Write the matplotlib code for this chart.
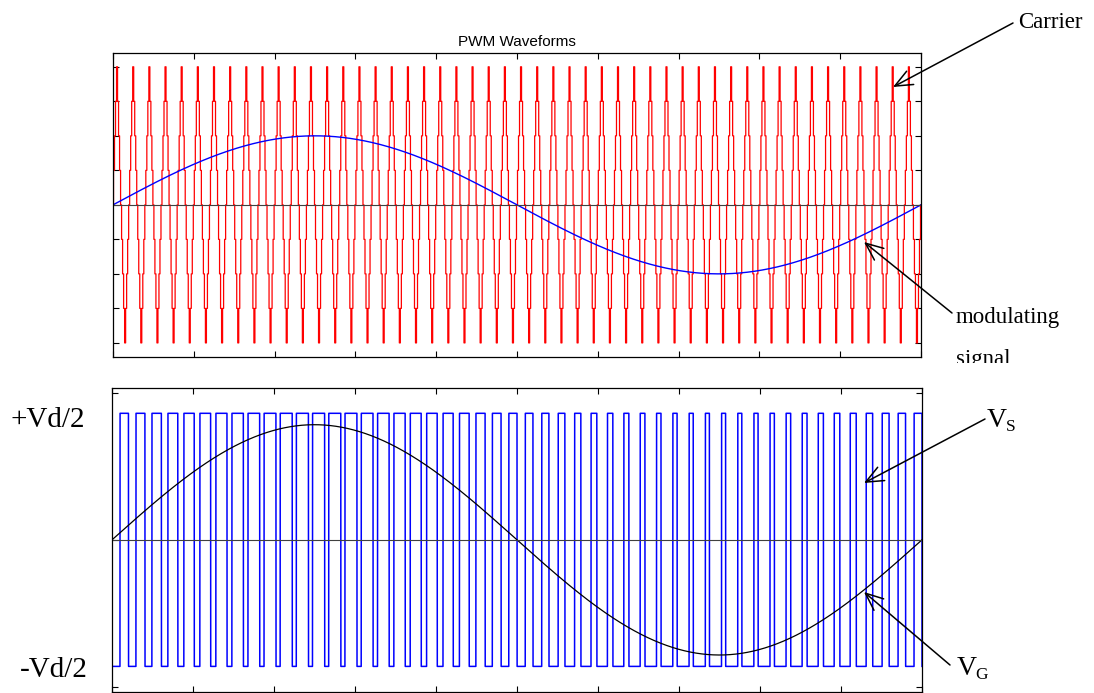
import numpy as np
import matplotlib
matplotlib.use("Agg")
import matplotlib.pyplot as plt
from matplotlib.transforms import Bbox, TransformedBbox

# values
t_end = 0.02            # one period of the 50 Hz modulating signal
n_carrier = 50          # carrier periods in the window
carrier_amp = 1.0
carrier_samples = 16    # samples per carrier period (gives the stepped look)
mod_amp = 0.5           # blue modulating sine, top plot
vg_amp = 0.91           # black sine, bottom plot
pwm_levels = [-1.0, 1.0]
top_yticks = [-1, -0.75, -0.5, -0.25, 0, 0.25, 0.5, 0.75, 1]
bot_yticks = [-1.16, 0, 1.16]
xticks = np.arange(0, 0.0201, 0.002)

# triangle carrier from its corner points
Tc = t_end / n_carrier
corner_t = np.arange(4 * n_carrier + 1) * Tc / 4
corner_v = np.tile([0, 1, 0, -1], n_carrier + 1)[:len(corner_t)] * carrier_amp

ts = np.linspace(0, t_end, n_carrier * carrier_samples + 1)
carrier_s = np.interp(ts, corner_t, corner_v)

t = np.linspace(0, t_end, 40001)
carrier = np.interp(t, corner_t, corner_v)
mod = mod_amp * np.sin(2 * np.pi * t / t_end)
pwm = np.where(mod > carrier, pwm_levels[1], pwm_levels[0])
vg = vg_amp * np.sin(2 * np.pi * t / t_end)

W, H = 1094, 693
fig = plt.figure(figsize=(W / 100, H / 100), dpi=100)

def px(x0, y0, x1, y1):
    return [x0 / W, 1 - y1 / H, (x1 - x0) / W, (y1 - y0) / H]

def style(ax, yt):
    ax.set_xticks(xticks)
    ax.set_yticks(yt)
    ax.set_xticklabels([])
    ax.set_yticklabels([])
    ax.tick_params(direction="in", length=4.5, width=0.8, top=True, right=True)
    for s in ax.spines.values():
        s.set_linewidth(0.9)
    ax.set_xlim(0, t_end)

ax1 = fig.add_axes(px(113, 53, 921, 356.7))
ax1.plot(ts, carrier_s, color="#ff0000", lw=0.9, drawstyle="steps-mid")
ax1.plot(t, mod, color="#0000ff", lw=1.0)
ax1.axhline(0, color="#404040", lw=0.8)
ax1.set_ylim(-1.1, 1.1)
style(ax1, top_yticks)
ax1.set_title("PWM Waveforms", fontsize=11, family="Liberation Sans", pad=5)

ax2 = fig.add_axes(px(112, 388, 922, 691.7))
ax2.plot(t, pwm, color="#0000ff", lw=1.1)
ax2.plot(t, vg, color="black", lw=0.9)
ax2.axhline(0, color="#404040", lw=0.8)
ax2.set_ylim(-1.2, 1.2)
style(ax2, bot_yticks)

serif = "Liberation Serif"

def f(x, y):
    return (x / W, 1 - y / H)

aprops = dict(arrowstyle="->,head_length=0.7,head_width=0.3", color="black",
              lw=1.1, shrinkA=0, shrinkB=0, mutation_scale=18)

def arrow(tip, start):
    fig.add_artist(plt.Annotation("", xy=f(*tip), xytext=f(*start),
                                  xycoords="figure fraction", textcoords="figure fraction",
                                  arrowprops=aprops))

fig.text(*f(1018, 28), "Carrier", fontsize=16.5, family=serif)
arrow((893, 87), (1013, 23))

fig.text(*f(956, 323), "modulating", fontsize=16.5, family=serif)
sig = fig.text(*f(956, 365), "signal", fontsize=16.5, family=serif)
sig.set_clip_box(TransformedBbox(Bbox([[0.8, 1 - 363 / H], [1, 1]]), fig.transFigure))
sig.set_clip_on(True)
arrow((864, 242), (952, 313))

fig.text(*f(987, 427), "V", fontsize=20, family=serif)
fig.text(*f(1006, 431), "S", fontsize=12.5, family=serif)
arrow((864, 483), (985, 419))

fig.text(*f(957, 675), "V", fontsize=20, family=serif)
fig.text(*f(975, 679), "G", fontsize=12.5, family=serif)
arrow((864, 592), (950, 665))

fig.text(*f(11, 427), "+Vd/2", fontsize=21, family=serif)
fig.text(*f(20, 677), "-Vd/2", fontsize=21, family=serif)

fig.savefig("out.png", dpi=100)
